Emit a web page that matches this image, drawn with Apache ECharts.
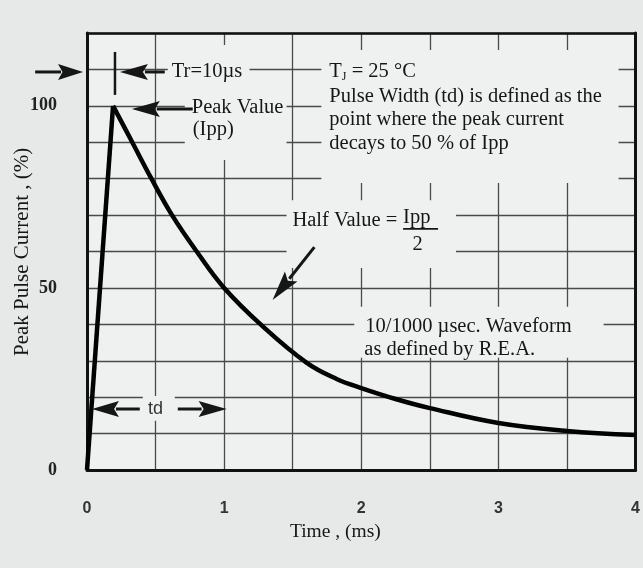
<!DOCTYPE html>
<html><head><meta charset="utf-8">
<script src="https://cdn.jsdelivr.net/npm/echarts@6/dist/echarts.min.js"></script>
<style>html,body{margin:0;padding:0;background:#e7e9e8;}#c{width:643px;height:568px;}</style>
</head><body><div id="c"></div>
<script>
// ---- data (time in ms, current in % of Ipp) ----
const riseTime = [0, 0.19];
const riseCurrent = [0, 100];
const decayTime = [0.19, 0.33, 0.47, 0.62, 0.80, 1.0, 1.28, 1.6, 1.82, 2.0, 2.25, 2.5, 3.0, 3.5, 4.0];
const decayCurrent = [100, 90, 80, 70, 60, 50, 39.5, 29.5, 25, 22.5, 19.5, 17, 12.9, 10.7, 9.6];
const xTickLabels = ['0', '1', '2', '3', '4'];
const yTickLabels = ['0', '50', '100'];

const BG = '#eff1f0';
const INK = '#161616';
const GRIDC = '#4a4a4a';
const serif = '"Liberation Serif","DejaVu Serif",serif';
const sans = '"Liberation Sans","DejaVu Sans",sans-serif';
const NOTE = '20.5px ' + serif;

const chart = echarts.init(document.getElementById('c'));
const option = {
  backgroundColor: '#e7e9e8',
  animation: false,
  grid: { left: 87, right: 6, top: 33, bottom: 98, show: true, backgroundColor: BG, borderWidth: 0 },
  xAxis: [
    { type: 'value', min: 0, max: 4, interval: 0.5, position: 'bottom',
      axisLine: { show: true, onZero: false, lineStyle: { color: '#111', width: 3 } },
      axisTick: { show: false },
      axisLabel: { margin: 31, color: '#333', fontFamily: sans, fontWeight: 'bold', fontSize: 16,
        formatter: v => Number.isInteger(v) ? xTickLabels[v] : '' },
      splitLine: { show: true, lineStyle: { color: GRIDC, width: 1.3 } } },
    { type: 'value', min: 0, max: 4, position: 'top',
      axisLine: { show: true, onZero: false, lineStyle: { color: '#111', width: 2.5 } },
      axisTick: { show: false }, axisLabel: { show: false }, splitLine: { show: false } }
  ],
  yAxis: [
    { type: 'value', min: 0, max: 120, interval: 10, position: 'left',
      axisLine: { show: true, onZero: false, lineStyle: { color: '#111', width: 3 } },
      axisTick: { show: false },
      axisLabel: { margin: 30, color: '#222', fontFamily: serif, fontWeight: 'bold', fontSize: 18,
        formatter: v => (v % 50 === 0 && v <= 100) ? yTickLabels[v / 50] : '' },
      splitLine: { show: true, lineStyle: { color: GRIDC, width: 1.3 } } },
    { type: 'value', min: 0, max: 120, position: 'right',
      axisLine: { show: true, onZero: false, lineStyle: { color: '#111', width: 3 } },
      axisTick: { show: false }, axisLabel: { show: false }, splitLine: { show: false } }
  ],
  series: [
    { type: 'line', xAxisIndex: 0, yAxisIndex: 0, showSymbol: false, z: 3,
      data: riseTime.map((t, i) => [t, riseCurrent[i]]),
      lineStyle: { color: '#000', width: 4.5 } },
    { type: 'line', xAxisIndex: 0, yAxisIndex: 0, showSymbol: false, z: 3, smooth: 0.4,
      data: decayTime.map((t, i) => [t, decayCurrent[i]]),
      lineStyle: { color: '#000', width: 4.5 } }
  ]
};
chart.setOption(option);

// ---- annotations, anchored in data units (ms, %) ----
const P = (x, y) => chart.convertToPixel({ seriesIndex: 1 }, [x, y]);
const els = [];
function box(x1, y1, x2, y2) {
  const a = P(x1, y1), b = P(x2, y2);
  els.push({ type: 'rect', z: 5, shape: { x: Math.min(a[0], b[0]), y: Math.min(a[1], b[1]),
    width: Math.abs(b[0] - a[0]), height: Math.abs(b[1] - a[1]) }, style: { fill: BG } });
}
function text(x, y, str, opt) {
  const p = P(x, y);
  els.push({ type: 'text', z: 10, x: p[0], y: p[1],
    style: Object.assign({ text: str, fill: INK, font: NOTE,
      textAlign: 'left', textVerticalAlign: 'middle' }, opt || {}) });
}
function seg(x1, y1, x2, y2, w) {
  const a = P(x1, y1), b = P(x2, y2);
  els.push({ type: 'line', z: 11, shape: { x1: a[0], y1: a[1], x2: b[0], y2: b[1] }, style: { stroke: INK, lineWidth: w } });
}
function arrow(tx, ty, hx, hy, len, half, w) {
  const t = P(tx, ty), h = P(hx, hy);
  const dx = h[0] - t[0], dy = h[1] - t[1], L = Math.hypot(dx, dy);
  const ux = dx / L, uy = dy / L;
  const bx = h[0] - ux * len, by = h[1] - uy * len;
  els.push({ type: 'line', z: 11, shape: { x1: t[0], y1: t[1], x2: bx + ux * 3, y2: by + uy * 3 },
    style: { stroke: INK, lineWidth: w } });
  els.push({ type: 'polygon', z: 11, shape: { points: [[h[0], h[1]], [bx - uy * half, by + ux * half],
    [bx + ux * len * 0.18, by + uy * len * 0.18], [bx + uy * half, by - ux * half]] }, style: { fill: INK } });
}

// background patches that interrupt the grid behind the notes
box(0.589, 116.7, 1.185, 102.4);
box(0.713, 102.4, 1.455, 85.1);
box(1.709, 115.3, 3.876, 78.8);
box(1.455, 74.1, 2.691, 55.5);
box(1.949, 44.8, 3.767, 30.8);
box(0.407, 20.3, 0.64, 13.5);

// rise time marker
arrow(-0.378, 109.3, -0.029, 109.3, 25, 8, 3);
seg(0.204, 114.8, 0.204, 103.0, 2.5);
arrow(0.567, 109.3, 0.24, 109.3, 28, 8, 3);
text(0.618, 109.3, 'Tr=10µs');

// peak value
arrow(0.771, 99.1, 0.327, 99.1, 28, 8, 3);
text(0.764, 99.4, 'Peak Value');
text(0.771, 93.4, '(Ipp)');

// conditions block
text(1.767, 109.3, '{a|T}{s|J}{a| = 25 °C}', { rich: { a: { font: NOTE, fill: INK },
  s: { font: '12px ' + serif, fill: INK, padding: [9, 0, 0, 0] } } });
text(1.767, 102.4, 'Pulse Width (td) is defined as the');
text(1.767, 96.1, 'point where the peak current');
text(1.767, 89.5, 'decays to 50 % of Ipp');

// half value
text(1.498, 68.4, 'Half Value =');
text(2.305, 69.2, 'Ipp');
seg(2.305, 66.2, 2.56, 66.2, 1.6);
text(2.41, 61.8, '2', { textAlign: 'center' });
arrow(1.658, 61.2, 1.353, 46.7, 30, 8, 3);

// waveform note
text(2.029, 39.5, '10/1000 µsec. Waveform');
text(2.022, 33.0, 'as defined by R.E.A.');

// td marker
arrow(0.385, 16.75, 0.036, 16.75, 27, 8, 3);
arrow(0.662, 16.75, 1.018, 16.75, 28, 8, 3);
text(0.444, 16.75, 'td', { font: '18px ' + sans, fill: '#333' });

// axis titles
const xt = P(1.811, -17.0);
els.push({ type: 'text', z: 10, x: xt[0], y: xt[1], style: { text: 'Time , (ms)', fill: INK,
  font: '19.5px ' + serif, textAlign: 'center', textVerticalAlign: 'middle' } });
const yt = P(-0.473, 59.9);
els.push({ type: 'text', z: 10, x: yt[0], y: yt[1], rotation: Math.PI / 2, style: { text: 'Peak Pulse Current , (%)', fill: INK,
  font: '21px ' + serif, textAlign: 'center', textVerticalAlign: 'middle' } });

chart.setOption({ graphic: { elements: els } });
</script></body></html>
